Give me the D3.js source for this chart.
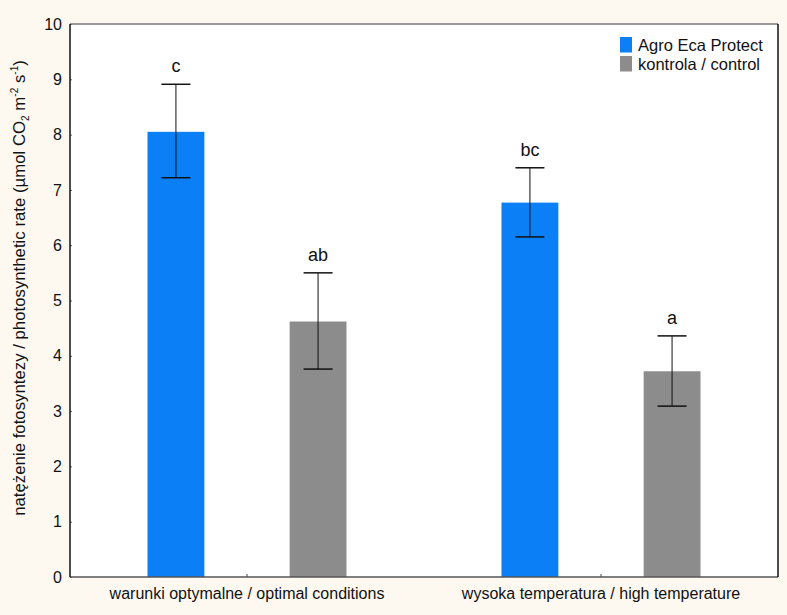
<!DOCTYPE html>
<meta charset="utf-8">
<style>
  body { margin: 0; background: #fdf9f1; }
  svg { font-family: "Liberation Sans", Arial, sans-serif; }
  .tick text { font-size: 16px; fill: #111; }
</style>
<svg width="787" height="615"></svg>
<script src="https://d3js.org/d3.v7.min.js"></script>
<script>
var svg = d3.select("svg");

// data
var categories = ["warunki optymalne / optimal conditions", "wysoka temperatura / high temperature"];
var series = ["Agro Eca Protect", "kontrola / control"];
var colors = ["#0a7ff6", "#8c8c8c"];
var means = [[8.05, 4.62], [6.77, 3.72]];
var errLow = [[7.22, 3.76], [6.15, 3.09]];
var errHigh = [[8.91, 5.50], [7.40, 4.36]];
var letters = [["c", "ab"], ["bc", "a"]];
var yTicks = [0, 1, 2, 3, 4, 5, 6, 7, 8, 9, 10];

var m = {left: 70, right: 778, top: 24, bottom: 577};

var x = d3.scaleBand().domain(categories).range([m.left, m.right]);
var y = d3.scaleLinear().domain([0, 10]).range([m.bottom, m.top]);
// offsets of the two bars inside a group
var xs = d3.scaleBand().domain(series).range([-99.5, 99.5]).paddingInner(0.6).paddingOuter(0);

// plot area
svg.append("rect")
   .attr("x", m.left).attr("y", m.top)
   .attr("width", m.right - m.left).attr("height", m.bottom - m.top)
   .attr("fill", "#fff");

// bars
var rows = [];
categories.forEach((c, i) => series.forEach((s, j) => rows.push({
  cat: c, ser: s, j: j, v: means[i][j], lo: errLow[i][j], hi: errHigh[i][j], lab: letters[i][j]
})));

var cx = d => x(d.cat) + x.bandwidth() / 2 + xs(d.ser) + xs.bandwidth() / 2;

svg.append("g").selectAll()
   .data(rows).enter().append("rect")
   .attr("x", d => cx(d) - xs.bandwidth() / 2)
   .attr("width", xs.bandwidth())
   .attr("y", d => y(d.v))
   .attr("height", d => y(0) - y(d.v))
   .attr("fill", d => colors[d.j]);

// error bars
var eb = svg.append("g").attr("stroke", "#111");
eb.selectAll().data(rows).enter().append("line")
  .attr("x1", cx).attr("x2", cx)
  .attr("y1", d => y(d.lo)).attr("y2", d => y(d.hi))
  .attr("stroke-width", 1);
["lo", "hi"].forEach(k => {
  eb.selectAll().data(rows).enter().append("line")
    .attr("x1", d => cx(d) - 14.5).attr("x2", d => cx(d) + 14.5)
    .attr("y1", d => y(d[k])).attr("y2", d => y(d[k]))
    .attr("stroke-width", 1.5);
});

// letters
svg.append("g").selectAll()
   .data(rows).enter().append("text")
   .attr("x", cx)
   .attr("y", d => y(d.hi) - 12)
   .attr("text-anchor", "middle")
   .attr("font-size", 18)
   .attr("fill", "#111")
   .text(d => d.lab);

// axes
var yAxis = svg.append("g")
   .attr("transform", "translate(" + m.left + ",0)")
   .call(d3.axisLeft(y).tickValues(yTicks).tickSize(-2).tickPadding(8));
yAxis.select(".domain").remove();
yAxis.selectAll(".tick line").attr("stroke", "#666");

var xAxis = svg.append("g")
   .attr("transform", "translate(0," + m.bottom + ")")
   .call(d3.axisBottom(x).tickSize(-3).tickPadding(11));
xAxis.select(".domain").remove();
xAxis.selectAll(".tick line").attr("stroke", "#444");
xAxis.selectAll(".tick text").attr("font-size", 18.5).attr("dy", "0.71em");

// frame
var fr = svg.append("g").attr("fill", "none");
fr.append("line").attr("x1", m.left).attr("x2", m.right).attr("y1", m.top).attr("y2", m.top)
  .attr("stroke", "#777").attr("stroke-width", 1.5);
fr.append("line").attr("x1", m.left).attr("x2", m.right).attr("y1", m.bottom).attr("y2", m.bottom)
  .attr("stroke", "#555").attr("stroke-width", 1.5);
fr.append("line").attr("x1", m.left).attr("x2", m.left).attr("y1", m.top).attr("y2", m.bottom)
  .attr("stroke", "#111").attr("stroke-width", 1.5);
fr.append("line").attr("x1", m.right).attr("x2", m.right).attr("y1", m.top).attr("y2", m.bottom)
  .attr("stroke", "#111").attr("stroke-width", 1.5);

// legend
var lg = svg.append("g").attr("transform", "translate(620,37)");
series.forEach((s, j) => {
  lg.append("rect").attr("x", 0).attr("y", j * 19).attr("width", 12).attr("height", 15.5).attr("fill", colors[j]);
  lg.append("text").attr("x", 18).attr("y", j * 19 + 13.5).attr("font-size", 16.5).attr("fill", "#111").text(s);
});

// y label
var yl = svg.append("text")
   .attr("transform", "translate(25,288) rotate(-90)")
   .attr("text-anchor", "middle")
   .attr("font-size", 16.8)
   .attr("fill", "#111");
yl.append("tspan").text("natężenie fotosyntezy / photosynthetic rate (µmol CO");
yl.append("tspan").attr("font-size", 10).attr("dy", 4).text("2");
yl.append("tspan").attr("dy", -4).text(" m");
yl.append("tspan").attr("font-size", 10).attr("dy", -7).text("-2");
yl.append("tspan").attr("dy", 7).text(" s");
yl.append("tspan").attr("font-size", 10).attr("dy", -7).text("-1");
yl.append("tspan").attr("dy", 7).text(")");
</script>
